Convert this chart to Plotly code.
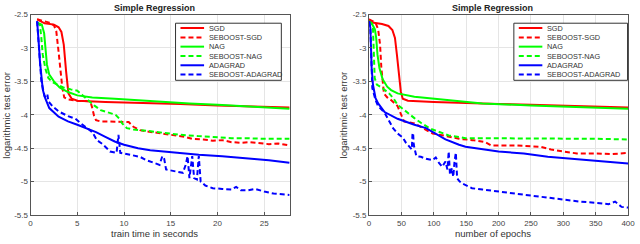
import plotly.graph_objects as go

# ---------------- data: left panel (train time in seconds) ----------------
sgd_t_x = [0.7, 1.5, 2.5, 3.0, 3.3, 3.55, 3.8, 4.05, 4.4, 5.0, 8.0, 12.0, 16.0, 20.0, 24.0, 27.7]
sgd_t_y = [-2.57, -2.63, -2.65, -2.69, -2.76, -2.95, -3.35, -3.68, -3.76, -3.79, -3.81, -3.82, -3.84, -3.86, -3.87, -3.89]

seb_sgd_t_x = [0.7, 2.0, 2.5, 2.75, 2.95, 3.15, 3.4, 3.6, 4.0, 5.0, 6.4, 6.6, 6.8, 7.0, 7.5, 8.5, 9.5, 10.5, 11.0,
               11.7, 12.5, 13.5, 14.5, 15.5, 16.5, 17.3, 18.5, 19.5, 20.5, 21.5, 22.5, 23.5, 24.5, 25.5, 26.5, 27.7]
seb_sgd_t_y = [-2.57, -2.62, -2.66, -2.75, -3.0, -3.3, -3.6, -3.74, -3.77, -3.79, -3.80, -3.9, -4.02, -4.08, -4.1,
               -4.1, -4.11, -4.11, -4.18, -4.23, -4.25, -4.27, -4.29, -4.31, -4.33, -4.36, -4.37, -4.39, -4.38, -4.41,
               -4.42, -4.41, -4.43, -4.44, -4.43, -4.46]

nag_t_x = [0.7, 1.2, 1.45, 1.6, 1.75, 2.0, 2.5, 3.1, 4.0, 5.0, 6.6, 9.0, 11.0, 14.0, 17.0, 20.0, 24.0, 27.7]
nag_t_y = [-2.62, -2.65, -2.78, -3.05, -3.25, -3.4, -3.5, -3.59, -3.66, -3.71, -3.74, -3.76, -3.78, -3.8, -3.83,
           -3.85, -3.88, -3.91]

seb_nag_t_x = [0.7, 1.0, 1.15, 1.3, 1.6, 1.9, 2.3, 2.7, 3.5, 4.3, 5.0, 5.5, 6.1, 6.8, 7.5, 8.3, 9.1, 9.5, 9.8, 10.3,
               11.0, 12.4, 13.5, 14.5, 16.0, 18.0, 20.0, 21.5, 23.0, 25.0, 27.7]
seb_nag_t_y = [-2.62, -2.65, -2.85, -3.1, -3.32, -3.45, -3.51, -3.54, -3.59, -3.62, -3.64, -3.7, -3.78, -3.86, -3.93,
               -3.97, -4.0, -4.06, -4.13, -4.2, -4.22, -4.24, -4.26, -4.28, -4.3, -4.32, -4.34, -4.35, -4.35, -4.36,
               -4.36]

ada_t_x = [0.7, 0.8, 0.9, 1.0, 1.15, 1.3, 1.5, 2.0, 3.0, 4.0, 5.0, 6.0, 7.0, 8.0, 9.0, 10.0, 11.5, 12.8, 15.0, 18.0,
           20.5, 23.3, 25.5, 27.7]
ada_t_y = [-2.6, -2.75, -2.98, -3.2, -3.45, -3.62, -3.73, -3.9, -4.03, -4.1, -4.15, -4.2, -4.26, -4.33, -4.4, -4.45,
           -4.5, -4.53, -4.56, -4.6, -4.62, -4.65, -4.68, -4.72]

seb_ada_t_x = [0.7, 0.85, 1.0, 1.15, 1.5, 1.7, 1.8, 1.9, 2.4, 3.0, 4.0, 4.8, 5.3, 5.9, 6.6, 7.1, 7.7, 8.5, 9.2, 9.4,
               9.5, 9.6, 10.0, 11.0, 11.7, 12.4, 13.2, 13.8, 14.1, 14.3, 14.5, 15.5, 16.3, 16.6, 16.8, 17.0, 17.3,
               17.5, 17.8, 18.0, 18.2, 18.7, 19.5, 20.5, 21.5, 22.0, 22.5, 23.3, 24.0, 25.0, 26.0, 27.7]
seb_ada_t_y = [-2.6, -2.9, -3.2, -3.5, -3.72, -3.74, -3.7, -3.8, -3.88, -3.95, -4.02, -4.06, -4.12, -4.18, -4.26,
               -4.38, -4.44, -4.55, -4.57, -4.3, -4.5, -4.57, -4.58, -4.61, -4.63, -4.68, -4.72, -4.75, -4.62, -4.66,
               -4.82, -4.85, -4.87, -4.75, -4.62, -4.95, -4.62, -4.95, -4.97, -4.62, -5.0, -5.06, -5.1, -5.11, -5.12,
               -5.08, -5.13, -5.13, -5.11, -5.15, -5.18, -5.2]

# ---------------- data: right panel (number of epochs) ----------------
sgd_e_x = [0, 5, 20, 30, 36, 40, 43, 46, 49, 52, 60, 100, 150, 200, 250, 300, 350, 400]
sgd_e_y = [-2.57, -2.62, -2.64, -2.67, -2.73, -2.85, -3.1, -3.35, -3.65, -3.76, -3.79, -3.81, -3.83, -3.84, -3.85,
           -3.86, -3.87, -3.89]

seb_sgd_e_x = [0, 10, 14, 17, 19, 21, 23, 28, 34, 44, 49, 54, 70, 83, 98, 115, 139, 160, 179, 189, 225, 265, 281,
               300, 321, 352, 375, 400]
seb_sgd_e_y = [-2.57, -2.62, -2.72, -2.95, -3.3, -3.5, -3.68, -3.74, -3.78, -3.87, -4.0, -4.1, -4.13, -4.2, -4.28,
               -4.31, -4.36, -4.38, -4.41, -4.46, -4.46, -4.48, -4.52, -4.55, -4.58, -4.58, -4.59, -4.57]

nag_e_x = [0, 4, 9, 11, 13, 16, 21, 28, 34, 44, 70, 120, 175, 250, 300, 350, 400]
nag_e_y = [-2.6, -2.63, -2.72, -2.85, -3.1, -3.3, -3.47, -3.58, -3.63, -3.68, -3.73, -3.78, -3.83, -3.86, -3.88,
           -3.89, -3.91]

seb_nag_e_x = [0, 4, 6, 7, 7.6, 8.7, 12, 19, 31, 38, 44, 59, 70, 80, 95, 115, 123, 149, 200, 250, 300, 350, 400]
seb_nag_e_y = [-2.6, -2.63, -2.7, -3.0, -3.2, -3.45, -3.55, -3.59, -3.68, -3.76, -3.85, -3.97, -4.05, -4.12, -4.21,
               -4.28, -4.31, -4.35, -4.35, -4.36, -4.36, -4.36, -4.37]

ada_e_x = [0, 2, 3, 4, 6, 10, 14, 24, 44, 70, 88, 100, 118, 139, 149, 200, 239, 276, 352, 400]
ada_e_y = [-2.6, -2.7, -3.0, -3.3, -3.55, -3.75, -3.83, -3.96, -4.06, -4.15, -4.2, -4.27, -4.37, -4.45, -4.48,
           -4.55, -4.58, -4.63, -4.69, -4.73]

seb_ada_e_x = [0, 2, 3, 4, 5, 10, 14, 24, 30, 37, 44, 52, 57, 62, 66, 67, 68, 69, 73, 80, 88, 98, 103, 108, 113,
               118, 121, 123, 125, 128, 130, 132, 134, 136, 140, 144, 150, 159, 175, 200, 225, 250, 275, 301, 325,
               352, 370, 380, 390, 400]
seb_ada_e_y = [-2.6, -2.7, -3.0, -3.3, -3.6, -3.78, -3.87, -3.97, -4.08, -4.2, -4.28, -4.34, -4.42, -4.48, -4.52,
               -4.3, -4.27, -4.45, -4.62, -4.63, -4.66, -4.68, -4.64, -4.72, -4.78, -4.7, -4.82, -4.55, -4.9, -4.8,
               -4.93, -4.7, -4.57, -4.95, -5.0, -5.03, -5.06, -5.1, -5.12, -5.15, -5.18, -5.22, -5.25, -5.28, -5.3,
               -5.32, -5.34, -5.3, -5.38, -5.39]

series_names = ["SGD", "SEBOOST-SGD", "NAG", "SEBOOST-NAG", "ADAGRAD", "SEBOOST-ADAGRAD"]
series_colors = ["#ff0000", "#ff0000", "#00ff00", "#00ff00", "#0000ff", "#0000ff"]
series_dash = ["solid", "5px,3px", "solid", "5px,3px", "solid", "5px,3px"]

y_tickvals = [-5.5, -5, -4.5, -4, -3.5, -3, -2.5]
y_ticktext = ["-5.5", "-5", "-4.5", "-4", "-3.5", "-3", "-2.5"]
xt_tickvals = [0, 5, 10, 15, 20, 25]
xe_tickvals = [0, 50, 100, 150, 200, 250, 300, 350, 400]

panel_title = "Simple Regression"
y_title = "logarithmic test error"
x_titles = ["train time in seconds", "number of epochs"]

left_data = [(sgd_t_x, sgd_t_y), (seb_sgd_t_x, seb_sgd_t_y), (nag_t_x, nag_t_y),
             (seb_nag_t_x, seb_nag_t_y), (ada_t_x, ada_t_y), (seb_ada_t_x, seb_ada_t_y)]
right_data = [(sgd_e_x, sgd_e_y), (seb_sgd_e_x, seb_sgd_e_y), (nag_e_x, nag_e_y),
              (seb_nag_e_x, seb_nag_e_y), (ada_e_x, ada_e_y), (seb_ada_e_x, seb_ada_e_y)]

W, H = 640, 244
fig = go.Figure()

for (xs, ys), c, d, n in zip(left_data, series_colors, series_dash, series_names):
    fig.add_trace(go.Scatter(x=xs, y=ys, mode="lines", name=n, showlegend=False,
                             line=dict(color=c, width=2, dash=d), xaxis="x", yaxis="y"))
for (xs, ys), c, d, n in zip(right_data, series_colors, series_dash, series_names):
    fig.add_trace(go.Scatter(x=xs, y=ys, mode="lines", name=n, showlegend=False,
                             line=dict(color=c, width=2, dash=d), xaxis="x2", yaxis="y2"))

# plot-area pixel geometry
L1, R1 = 29, 292
L2, R2 = 372.3, 635
TOP, BOT = 11, 219

def px(v):
    return v / W

def py(v):
    return 1 - v / H

axis_common = dict(showgrid=True, gridcolor="#e5e5e5", gridwidth=1, zeroline=False,
                   showline=True, mirror=True, linecolor="#555555", linewidth=1,
                   ticks="inside", ticklen=3, tickcolor="#555555", ticklabeloverflow="allow",
                   tickfont=dict(family="Liberation Sans", size=8, color="#444444"))

fig.update_layout(
    width=W, height=H,
    margin=dict(l=0, r=0, t=0, b=0),
    paper_bgcolor="white", plot_bgcolor="white",
    showlegend=False,
    xaxis=dict(domain=[px(L1), px(R1)], range=[0, 27.75], tickvals=xt_tickvals, anchor="y", **axis_common),
    yaxis=dict(domain=[py(BOT), py(TOP)], range=[-5.5, -2.5], tickvals=y_tickvals, ticktext=y_ticktext,
               anchor="x", **axis_common),
    xaxis2=dict(domain=[px(L2), px(R2)], range=[0, 400], tickvals=xe_tickvals, anchor="y2", **axis_common),
    yaxis2=dict(domain=[py(BOT), py(TOP)], range=[-5.5, -2.5], tickvals=y_tickvals, ticktext=y_ticktext,
                anchor="x2", **axis_common),
)

annotations = []
shapes = []
txtfont = dict(family="Liberation Sans", color="#333333")
for i, (xa, ya, cx, ylab_x, xt) in enumerate([("x", "y", 154.5, 5, x_titles[0]),
                                              ("x2", "y2", 498, 346.5, x_titles[1])]):
    annotations.append(dict(text="<b>" + panel_title + "</b>", x=px(cx), y=py(4.5), xref="paper", yref="paper",
                            showarrow=False, xanchor="center", yanchor="middle",
                            font=dict(family="Liberation Sans", size=9, color="#222222")))
    annotations.append(dict(text=xt, x=px(cx), y=py(238.5), xref="paper", yref="paper", showarrow=False,
                            xanchor="center", yanchor="middle", font=dict(size=9.5, **txtfont)))
    annotations.append(dict(text=y_title, x=px(ylab_x), y=py(115), xref="paper", yref="paper", showarrow=False,
                            textangle=-90, xanchor="center", yanchor="middle", font=dict(size=9.5, **txtfont)))
    # legend box
    xd = xa + " domain"
    yd = ya + " domain"
    box_right = 0.967 if i == 0 else 0.998
    shapes.append(dict(type="rect", xref=xd, yref=yd, x0=0.559, x1=box_right, y0=0.672, y1=0.957,
                       line=dict(color="#333333", width=1), fillcolor="white", layer="above"))
    ys_leg = [0.933, 0.886, 0.840, 0.793, 0.747, 0.701]
    for n, c, d, yy in zip(series_names, series_colors, series_dash, ys_leg):
        shapes.append(dict(type="line", xref=xd, yref=yd, x0=0.578, x1=0.669, y0=yy, y1=yy,
                           line=dict(color=c, width=2, dash=d), layer="above"))
        annotations.append(dict(text=n, x=0.679, y=yy, xref=xd, yref=yd, showarrow=False,
                                xanchor="left", yanchor="middle",
                                font=dict(family="Liberation Sans", size=7.3, color="#333333")))

fig.update_layout(annotations=annotations, shapes=shapes)
fig.write_html("out.html", config={"displayModeBar": False},
               post_script="document.body.style.margin='0px';document.body.style.overflow='hidden';")
